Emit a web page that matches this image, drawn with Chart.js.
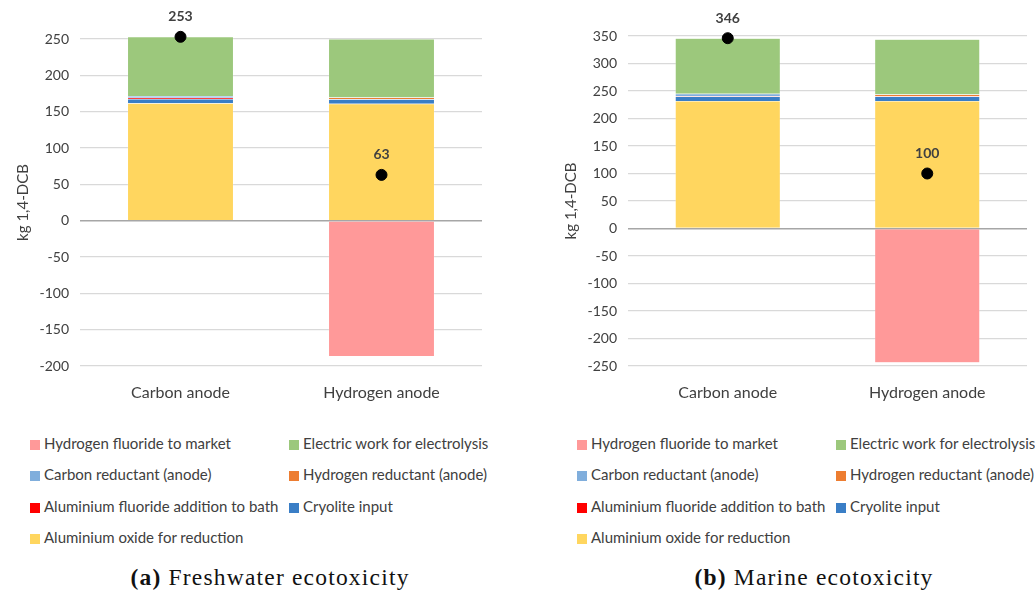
<!DOCTYPE html>
<html>
<head>
<meta charset="utf-8">
<script src="https://cdn.jsdelivr.net/npm/chart.js@4"></script>
<style>
  body { margin: 0; background: #fff; width: 1035px; height: 597px; position: relative; overflow: hidden; }
  .panel { position: absolute; top: 0; }
  .legend { position: absolute; font-family: Lato, "Open Sans", sans-serif; font-size: 15px; color: #404040; }
  .legend .item { position: absolute; white-space: nowrap; line-height: 16px; }
  .legend .sw { display: inline-block; width: 10px; height: 10px; margin-right: 4px; vertical-align: -1px; }
  .caption { position: absolute; top: 564px; width: 520px; text-align: center; font-family: "Liberation Serif", "DejaVu Serif", serif; font-size: 23.5px; letter-spacing: 1.2px; color: #111; }
</style>
</head>
<body>
<div class="panel" style="left:0px;"><canvas id="fresh" width="490" height="410"></canvas></div>
<div class="panel" style="left:548px;"><canvas id="marine" width="487" height="410"></canvas></div>
<div class="legend" id="legFresh" style="left:30px; top:435px;"></div>
<div class="legend" id="legMarine" style="left:577px; top:435px;"></div>
<div class="caption" style="left:10px;"><b>(a)</b> Freshwater ecotoxicity</div>
<div class="caption" style="left:554px;"><b>(b)</b> Marine ecotoxicity</div>
<script>
const categories = ["Carbon anode", "Hydrogen anode"];

// legend order (top to bottom of legend); stack order is the reverse
const processes = [
  "Hydrogen fluoride to market",
  "Electric work for electrolysis",
  "Carbon reductant (anode)",
  "Hydrogen reductant (anode)",
  "Aluminium fluoride addition to bath",
  "Cryolite input",
  "Aluminium oxide for reduction"
];
const processColors = ["#FF9999", "#9CC87C", "#80AEDC", "#ED7D31", "#FF0000", "#3A7EC6", "#FFD65F"];

// freshwater ecotoxicity, kg 1,4-DCB  [carbon, hydrogen]
const fwHF = [0, -187];
const fwElectric = [81.5, 80.5];
const fwCarbonRed = [2.5, 0];
const fwHydrogenRed = [0, 2];
const fwAlF = [1.5, 0.5];
const fwCryolite = [6, 6];
const fwAluOxide = [161.5, 161];
const fwNet = [253, 63];

// marine ecotoxicity, kg 1,4-DCB  [carbon, hydrogen]
const mHF = [0, -244];
const mElectric = [101, 100.5];
const mCarbonRed = [4, 0];
const mHydrogenRed = [0, 2.5];
const mAlF = [1, 1];
const mCryolite = [8, 8];
const mAluOxide = [232, 232];
const mNet = [346, 100];

const fwTicks = { min: -200, max: 250, step: 50 };
const mTicks = { min: -250, max: 350, step: 50 };

const fontFam = "Lato, 'Open Sans', sans-serif";

const netLabels = {
  id: "netLabels",
  afterDatasetsDraw(chart) {
    const idx = chart.data.datasets.findIndex(d => d.type === "line");
    const meta = chart.getDatasetMeta(idx);
    const ctx = chart.ctx;
    ctx.save();
    ctx.font = "bold 14px " + fontFam;
    ctx.fillStyle = "#404040";
    ctx.textAlign = "center";
    ctx.textBaseline = "middle";
    meta.data.forEach((pt, i) => {
      ctx.fillText(String(chart.data.datasets[idx].data[i]), pt.x, pt.y - 20);
    });
    ctx.restore();
  }
};

function makeChart(id, series, net, range, topPad) {
  // series given in legend order; stack from the bottom up
  const datasets = [];
  for (let i = series.length - 1; i >= 0; i--) {
    datasets.push({
      type: "bar",
      label: processes[i],
      data: series[i],
      backgroundColor: processColors[i],
      borderColor: "rgba(255,255,255,0.5)",
      borderWidth: 0.5,
      stack: "main",
      order: 1,
      clip: false,
      barPercentage: 1,
      categoryPercentage: 0.527
    });
  }
  datasets.push({
    type: "line",
    label: "Net",
    data: net,
    showLine: false,
    pointRadius: 5.5,
    pointBackgroundColor: "#000",
    pointBorderColor: "#000",
    stack: "net",
    order: 0,
    clip: false
  });
  return new Chart(id, {
    data: { labels: categories, datasets: datasets },
    options: {
      responsive: false,
      animation: false,
      layout: { padding: { left: 14, right: 8, top: topPad, bottom: 0 } },
      scales: {
        x: {
          stacked: true,
          grid: { display: false },
          border: { display: false },
          ticks: { color: "#404040", font: { family: fontFam, size: 16 }, padding: 9 },
          afterFit(s) { s.height = 44; }
        },
        y: {
          stacked: true,
          min: range.min,
          max: range.max,
          ticks: { stepSize: range.step, color: "#404040", font: { family: fontFam, size: 14 }, padding: 11 },
          grid: {
            color: c => c.tick.value === 0 ? "#A6A6A6" : "#D9D9D9",
            lineWidth: c => c.tick.value === 0 ? 1.5 : 1.2,
            drawTicks: false
          },
          border: { display: false },
          title: { display: true, text: "kg 1,4-DCB", color: "#404040", font: { family: fontFam, size: 15 }, padding: 0 },
          afterFit(s) { s.width = 66; }
        }
      },
      plugins: { legend: { display: false }, tooltip: { enabled: false } }
    },
    plugins: [netLabels]
  });
}

const fresh = makeChart("fresh", [fwHF, fwElectric, fwCarbonRed, fwHydrogenRed, fwAlF, fwCryolite, fwAluOxide], fwNet, fwTicks, 39);
const marine = makeChart("marine", [mHF, mElectric, mCarbonRed, mHydrogenRed, mAlF, mCryolite, mAluOxide], mNet, mTicks, 36);

function buildLegend(elId) {
  const el = document.getElementById(elId);
  processes.forEach((name, i) => {
    const item = document.createElement("div");
    item.className = "item";
    item.style.left = (i % 2 === 0 ? 0 : 259) + "px";
    item.style.top = (Math.floor(i / 2) * 31.3) + "px";
    const sw = document.createElement("span");
    sw.className = "sw";
    sw.style.background = processColors[i];
    item.appendChild(sw);
    item.appendChild(document.createTextNode(name));
    el.appendChild(item);
  });
}
buildLegend("legFresh");
buildLegend("legMarine");
</script>
</body>
</html>
